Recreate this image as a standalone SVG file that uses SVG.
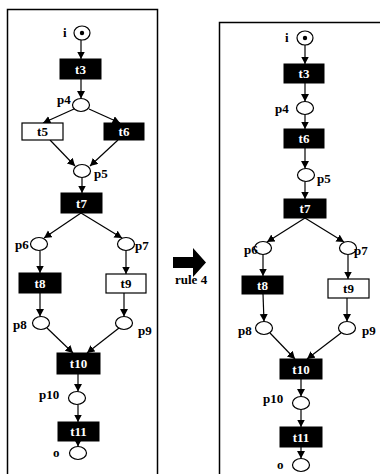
<svg xmlns="http://www.w3.org/2000/svg" width="380" height="474" viewBox="0 0 380 474">
<style>
text{font-family:"Liberation Serif","Times New Roman",serif;font-weight:bold;font-size:13px;fill:#000}
.frame{fill:none;stroke:#000;stroke-width:1.5}
.pl{fill:#fff;stroke:#000;stroke-width:1.2}
.tb{fill:#000;stroke:#000;stroke-width:1}
.tw{fill:#fff;stroke:#000;stroke-width:1.2}
.tt{fill:#fff;text-anchor:middle}
.tk{fill:#000;text-anchor:middle}
.e{stroke:#000;stroke-width:1.2;fill:none;marker-end:url(#ah)}
</style>
<defs>
<marker id="ah" markerWidth="9" markerHeight="9" refX="7.5" refY="4" orient="auto" markerUnits="userSpaceOnUse">
<path d="M0,0 L7.5,4 L0,8 Z" fill="#000"/>
</marker>
</defs>
<rect class="frame" x="7.5" y="9.5" width="150" height="480"/>
<rect class="frame" x="219.5" y="22.5" width="200" height="480"/>
<g id="rule-arrow">
<polygon points="173,257 193,257 193,248 206,262.5 193,277 193,268 173,268" fill="#000"/>
<text x="175" y="284">rule 4</text>
</g>
<g id="edges">
<line class="e" x1="81" y1="40" x2="81" y2="59"/>
<line class="e" x1="81" y1="79" x2="81" y2="98.5"/>
<line class="e" x1="74" y1="109" x2="43" y2="123"/>
<line class="e" x1="89" y1="109" x2="120" y2="123"/>
<line class="e" x1="50" y1="140" x2="75" y2="166"/>
<line class="e" x1="118" y1="140" x2="90" y2="166"/>
<line class="e" x1="82" y1="178" x2="82" y2="193"/>
<line class="e" x1="81" y1="213" x2="44" y2="238"/>
<line class="e" x1="81" y1="213" x2="122" y2="238"/>
<line class="e" x1="40" y1="251" x2="40" y2="273"/>
<line class="e" x1="126" y1="251" x2="126" y2="274"/>
<line class="e" x1="40" y1="293" x2="40" y2="316.5"/>
<line class="e" x1="124" y1="293" x2="124" y2="316.5"/>
<line class="e" x1="47" y1="328" x2="73" y2="353"/>
<line class="e" x1="119" y1="328" x2="87" y2="353"/>
<line class="e" x1="78" y1="374" x2="78" y2="391.5"/>
<line class="e" x1="78" y1="404.5" x2="78" y2="422"/>
<line class="e" x1="78" y1="441" x2="78" y2="446.5"/>
<line class="e" x1="305" y1="45" x2="305" y2="64"/>
<line class="e" x1="305" y1="83" x2="305" y2="101.5"/>
<line class="e" x1="305" y1="114.5" x2="305" y2="129"/>
<line class="e" x1="305" y1="148" x2="305" y2="168.5"/>
<line class="e" x1="305" y1="181.5" x2="305" y2="199"/>
<line class="e" x1="305" y1="218" x2="267" y2="242"/>
<line class="e" x1="305" y1="218" x2="344" y2="242"/>
<line class="e" x1="263" y1="254.5" x2="263" y2="276"/>
<line class="e" x1="348" y1="254.5" x2="348" y2="279"/>
<line class="e" x1="263" y1="294" x2="264" y2="321.5"/>
<line class="e" x1="347" y1="298" x2="347" y2="321.5"/>
<line class="e" x1="270" y1="333" x2="295" y2="359"/>
<line class="e" x1="341" y1="333" x2="307" y2="359"/>
<line class="e" x1="301" y1="379" x2="301" y2="396.5"/>
<line class="e" x1="301" y1="409.5" x2="301" y2="427"/>
<line class="e" x1="301" y1="447" x2="301" y2="458.5"/>
</g>
<g id="L-i"><ellipse class="pl" cx="82" cy="33" rx="8" ry="7"/><circle cx="82" cy="33" r="2.2" fill="#000"/><text x="63" y="37">i</text></g>
<g id="L-t3"><rect class="tb" x="60" y="59" width="41" height="20"/><text class="tt" x="80.5" y="73.5">t3</text></g>
<g id="L-p4"><ellipse class="pl" cx="81" cy="105" rx="8.5" ry="6.5"/><text x="57" y="104">p4</text></g>
<g id="L-t5"><rect class="tw" x="22" y="123" width="41" height="17"/><text class="tk" x="42.5" y="136">t5</text></g>
<g id="L-t6"><rect class="tb" x="104" y="123" width="40" height="17"/><text class="tt" x="124" y="136">t6</text></g>
<g id="L-p5"><ellipse class="pl" cx="82" cy="171" rx="8.5" ry="6.5"/><text x="94" y="178">p5</text></g>
<g id="L-t7"><rect class="tb" x="61" y="193" width="41" height="20"/><text class="tt" x="81.5" y="207.5">t7</text></g>
<g id="L-p6"><ellipse class="pl" cx="39" cy="244" rx="8.5" ry="6.5"/><text x="15" y="249">p6</text></g>
<g id="L-p7"><ellipse class="pl" cx="126" cy="244" rx="8.5" ry="6.5"/><text x="135" y="250">p7</text></g>
<g id="L-t8"><rect class="tb" x="19" y="273" width="42" height="20"/><text class="tt" x="40" y="287.5">t8</text></g>
<g id="L-t9"><rect class="tw" x="106" y="274" width="40" height="19"/><text class="tk" x="126" y="288">t9</text></g>
<g id="L-p8"><ellipse class="pl" cx="41" cy="323" rx="8.5" ry="6.5"/><text x="13" y="329">p8</text></g>
<g id="L-p9"><ellipse class="pl" cx="124" cy="323" rx="8.5" ry="6.5"/><text x="138" y="335">p9</text></g>
<g id="L-t10"><rect class="tb" x="57" y="353" width="43" height="21"/><text class="tt" x="78.5" y="368">t10</text></g>
<g id="L-p10"><ellipse class="pl" cx="77" cy="398" rx="8.5" ry="6.5"/><text x="39" y="399">p10</text></g>
<g id="L-t11"><rect class="tb" x="58" y="422" width="41" height="19"/><text class="tt" x="78.5" y="436">t11</text></g>
<g id="L-o"><ellipse class="pl" cx="78" cy="453" rx="8.5" ry="6.5"/><text x="53" y="457">o</text></g>
<g id="R-i"><ellipse class="pl" cx="305" cy="38" rx="8" ry="7"/><circle cx="305" cy="38" r="2.2" fill="#000"/><text x="285" y="42">i</text></g>
<g id="R-t3"><rect class="tb" x="284" y="64" width="40" height="19"/><text class="tt" x="304" y="78">t3</text></g>
<g id="R-p4"><ellipse class="pl" cx="305" cy="108" rx="8.5" ry="6.5"/><text x="275" y="113">p4</text></g>
<g id="R-t6"><rect class="tb" x="284" y="129" width="40" height="19"/><text class="tt" x="304" y="143">t6</text></g>
<g id="R-p5"><ellipse class="pl" cx="306" cy="175" rx="8.5" ry="6.5"/><text x="317" y="183">p5</text></g>
<g id="R-t7"><rect class="tb" x="284" y="199" width="42" height="19"/><text class="tt" x="305" y="213">t7</text></g>
<g id="R-p6"><ellipse class="pl" cx="263" cy="248" rx="8.5" ry="6.5"/><text x="244" y="254">p6</text></g>
<g id="R-p7"><ellipse class="pl" cx="348" cy="248" rx="8.5" ry="6.5"/><text x="354" y="255">p7</text></g>
<g id="R-t8"><rect class="tb" x="242" y="276" width="41" height="18"/><text class="tt" x="262.5" y="289.5">t8</text></g>
<g id="R-t9"><rect class="tw" x="328" y="279" width="41" height="19"/><text class="tk" x="348.5" y="293">t9</text></g>
<g id="R-p8"><ellipse class="pl" cx="264" cy="328" rx="8.5" ry="6.5"/><text x="238" y="335">p8</text></g>
<g id="R-p9"><ellipse class="pl" cx="347" cy="328" rx="8.5" ry="6.5"/><text x="362" y="335">p9</text></g>
<g id="R-t10"><rect class="tb" x="280" y="359" width="42" height="20"/><text class="tt" x="301" y="373.5">t10</text></g>
<g id="R-p10"><ellipse class="pl" cx="301" cy="403" rx="8.5" ry="6.5"/><text x="263" y="403">p10</text></g>
<g id="R-t11"><rect class="tb" x="280" y="427" width="42" height="20"/><text class="tt" x="301" y="441.5">t11</text></g>
<g id="R-o"><ellipse class="pl" cx="301" cy="465" rx="8.5" ry="6.5"/><text x="277" y="469">o</text></g>
</svg>
